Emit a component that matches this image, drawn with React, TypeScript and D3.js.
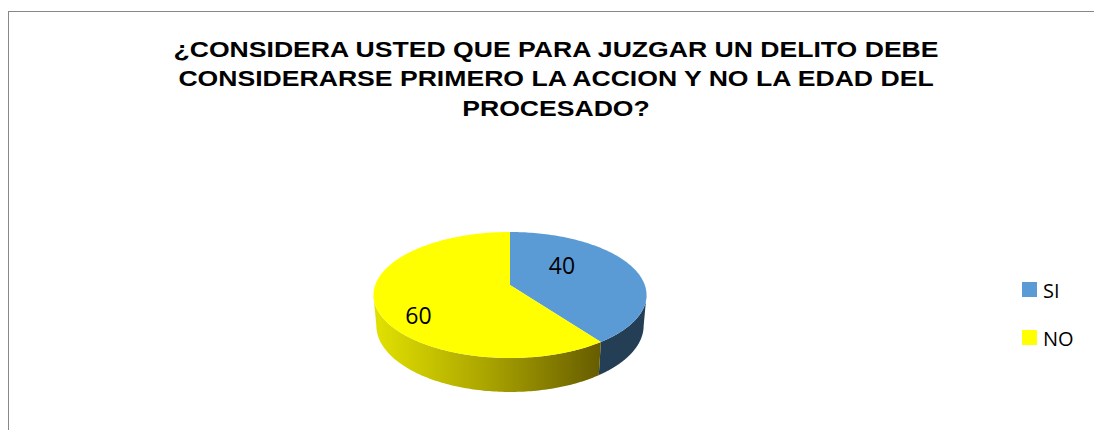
import React from "react";
import * as d3 from "d3";

const categories = ["SI", "NO"];
const values = [40, 60];
const colors = ["#5b9bd5", "#ffff00"];
const titleLines = [
  "¿CONSIDERA USTED QUE PARA JUZGAR UN DELITO DEBE",
  "CONSIDERARSE PRIMERO LA ACCION Y NO LA EDAD DEL",
  "PROCESADO?",
];

const W = 1094;
const H = 430;

// perspective projection of a flat cylinder (Excel style 3D pie)
const CX = 510, CY = 285;
const R = 0.1783, F = 756, SINA = 0.4555, COSA = 0.89, DEPTH = 0.0458;

function project(theta: number, y: number): [number, number] {
  const X = R * Math.sin(theta);
  const Z = -R * Math.cos(theta);
  const Y = y;
  const d = 1 - Y * SINA - Z * COSA;
  const sx = (F * X) / d;
  const syUp = (F * (Y * COSA - Z * SINA)) / d;
  return [CX + sx, CY - syUp];
}

function sample(a0: number, a1: number, y: number, n = 120): [number, number][] {
  const pts: [number, number][] = [];
  for (let i = 0; i <= n; i++) pts.push(project(a0 + ((a1 - a0) * i) / n, y));
  return pts;
}

export default function App() {
  const pie = d3.pie<number>().sort(null).startAngle(0).endAngle(2 * Math.PI);
  const arcs = pie(values);
  const line = d3.line<[number, number]>();
  const k = R * COSA;
  const tR = Math.acos(-k); // rightmost silhouette angle
  const tL = 2 * Math.PI - tR; // leftmost silhouette angle
  const topPath = (a0: number, a1: number) =>
    line([[CX, CY], ...sample(a0, a1, 0)])! + "Z";
  const sidePath = (a0: number, a1: number) => {
    const s = Math.max(a0, tR);
    const e = Math.min(a1, tL);
    if (e <= s) return null;
    const top = sample(s, e, 0);
    const bottom = sample(e, s, -DEPTH);
    return line([...top, ...bottom])! + "Z";
  };
  const labelPos = [
    [562, 265],
    [418.5, 315],
  ];
  const sideFills = ["#243e56", "url(#yellowSide)"];
  const leftX = project(tL, 0)[0];
  const splitX = project(arcs[0].endAngle, 0)[0];
  return (
    <svg width={W} height={H} style={{ position: "absolute", left: 0, top: 0 }}>
      <defs>
        <linearGradient id="yellowSide" gradientUnits="userSpaceOnUse" x1={leftX} x2={splitX} y1={0} y2={0}>
          <stop offset="0" stopColor="#e2e200" />
          <stop offset="0.5" stopColor="#aaa400" />
          <stop offset="1" stopColor="#665c00" />
        </linearGradient>
      </defs>
      <rect x={0} y={0} width={W} height={H} fill="#fff" />
      <rect x={8.5} y={11.5} width={W + 10} height={H + 10} fill="#fff" stroke="#878787" strokeWidth={1} />
      {titleLines.map((t, i) => (
        <text
          key={i}
          transform={`translate(556, ${56.5 + i * 29.5}) scale(1.237, 1)`}
          x={0}
          y={0}
          textAnchor="middle"
          fontFamily="'Liberation Sans', Arial, sans-serif"
          fontWeight="bold"
          fontSize={21.5}
          fill="#000"
        >
          {t}
        </text>
      ))}
      {arcs.map((a, i) => {
        const p = sidePath(a.startAngle, a.endAngle);
        return p ? <path key={"s" + i} d={p} fill={sideFills[i]} /> : null;
      })}
      {arcs.map((a, i) => (
        <path key={"t" + i} d={topPath(a.startAngle, a.endAngle)} fill={colors[i]} />
      ))}
      {arcs.map((a, i) => (
        <text
          key={"l" + i}
          x={labelPos[i][0]}
          y={labelPos[i][1]}
          textAnchor="middle"
          dominantBaseline="central"
          fontFamily="'Open Sans', 'Liberation Sans', sans-serif"
          fontSize={23}
          fill="#000"
        >
          {a.data}
        </text>
      ))}
      {categories.map((c, i) => (
        <g key={c} transform={`translate(1022, ${282 + i * 48})`}>
          <rect x={0} y={0} width={15} height={15} fill={colors[i]} />
          <text
            x={21}
            y={8}
            dominantBaseline="central"
            fontFamily="'Open Sans', 'Liberation Sans', sans-serif"
            fontSize={20}
            fill="#000"
          >
            {c}
          </text>
        </g>
      ))}
    </svg>
  );
}
